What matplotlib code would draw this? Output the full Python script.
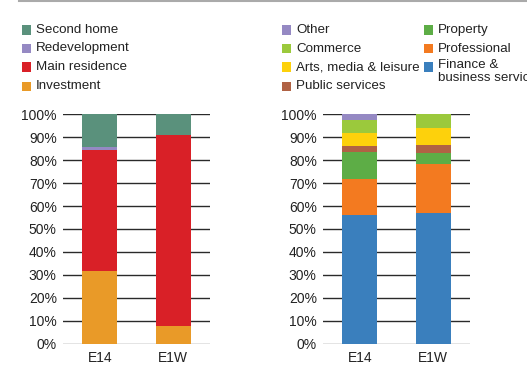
import matplotlib
matplotlib.use("Agg")
import matplotlib.pyplot as plt
from matplotlib.patches import Rectangle
from matplotlib.lines import Line2D
import numpy as np

plt.rcParams['font.family'] = ['Liberation Sans', 'DejaVu Sans']

categories = ["E14", "E1W"]
yticks = [0, 10, 20, 30, 40, 50, 60, 70, 80, 90, 100]

# Left chart (bottom to top)
left_series = ["Investment", "Main residence", "Redevelopment", "Second home"]
left_values = {
    "Investment":     [31.7, 7.7],
    "Main residence": [52.9, 83.4],
    "Redevelopment":  [1.2, 0.0],
    "Second home":    [14.2, 8.9],
}
left_colors = {
    "Investment": "#e99a28",
    "Main residence": "#d92027",
    "Redevelopment": "#9589c3",
    "Second home": "#5a917c",
}

# Right chart (bottom to top)
right_series = ["Finance &\nbusiness services", "Professional", "Property",
                "Public services", "Arts, media & leisure", "Commerce", "Other"]
right_values = {
    "Finance &\nbusiness services": [56.1, 57.0],
    "Professional":                 [15.7, 21.5],
    "Property":                     [11.9, 4.6],
    "Public services":              [2.6, 3.5],
    "Arts, media & leisure":        [5.6, 7.6],
    "Commerce":                     [5.6, 5.8],
    "Other":                        [2.5, 0.0],
}
right_colors = {
    "Finance &\nbusiness services": "#3a7fbd",
    "Professional": "#f37a20",
    "Property": "#5dad46",
    "Public services": "#b06244",
    "Arts, media & leisure": "#fdd10c",
    "Commerce": "#9bc93c",
    "Other": "#9589c3",
}

W, H = 527, 375
fig = plt.figure(figsize=(W / 100, H / 100), dpi=100)

def fx(px):
    return px / W

def fy(py):
    return 1 - py / H

ax_bottom = fy(343.7)
ax_h = fy(114.3) - ax_bottom

def draw(ax, series, values, colors):
    x = np.arange(len(categories))
    bottom = np.zeros(len(categories))
    for s in series:
        v = np.array(values[s])
        ax.bar(x, v, bottom=bottom, width=0.48, color=colors[s], zorder=3, linewidth=0)
        bottom += v
    ax.set_xlim(-0.5, 1.5)
    ax.set_ylim(0, 100)
    ax.set_yticks(yticks)
    ax.set_yticklabels([f"{t}%" for t in yticks])
    ax.set_xticks(x)
    ax.set_xticklabels(categories)
    for t in yticks:
        ax.axhline(t, color="#2a2a2a" if t != 0 else "#777777", lw=1.0, zorder=1)
    for sp in ax.spines.values():
        sp.set_visible(False)
    ax.tick_params(axis="both", length=0, labelsize=10, colors="#222222")
    ax.tick_params(axis="y", pad=4.5)
    ax.tick_params(axis="x", pad=5)

ax1 = fig.add_axes([fx(63), ax_bottom, fx(147), ax_h])
draw(ax1, left_series, left_values, left_colors)
ax2 = fig.add_axes([fx(323), ax_bottom, fx(147), ax_h])
draw(ax2, right_series, right_values, right_colors)

# Top rule
fig.add_artist(Line2D([fx(19), 1.0], [fy(0.7), fy(0.7)], color="#aaaaaa", lw=1.5))

LEG_FS = 9.6

def legend_item(sx, tx, cy, label, color):
    size = 9
    fig.add_artist(Rectangle((fx(sx), fy(cy + size / 2)), fx(size), size / H,
                             facecolor=color, edgecolor="none"))
    fig.text(fx(tx), fy(cy), label, fontsize=LEG_FS, color="#222222",
             va="center", ha="left")

# Left legend (top to bottom)
left_order = ["Second home", "Redevelopment", "Main residence", "Investment"]
rows = [30, 48.5, 67, 86]
for lab, cy in zip(left_order, rows):
    legend_item(22, 36, cy, lab, left_colors[lab])

# Right legend
col1 = ["Other", "Commerce", "Arts, media & leisure", "Public services"]
col2 = ["Property", "Professional", "Finance &\nbusiness services"]
for lab, cy in zip(col1, rows):
    legend_item(282, 296, cy, lab, right_colors[lab])
for lab, cy in zip(col2, rows):
    if "\n" in lab:
        size = 9
        fig.add_artist(Rectangle((fx(424), fy(cy + size / 2)), fx(size), size / H,
                                 facecolor=right_colors[lab], edgecolor="none"))
        fig.text(fx(438), fy(cy - 7.5), lab, fontsize=LEG_FS, color="#222222",
                 va="top", ha="left", linespacing=1.08)
    else:
        legend_item(424, 438, cy, lab, right_colors[lab])

fig.savefig("out.png", dpi=100)
